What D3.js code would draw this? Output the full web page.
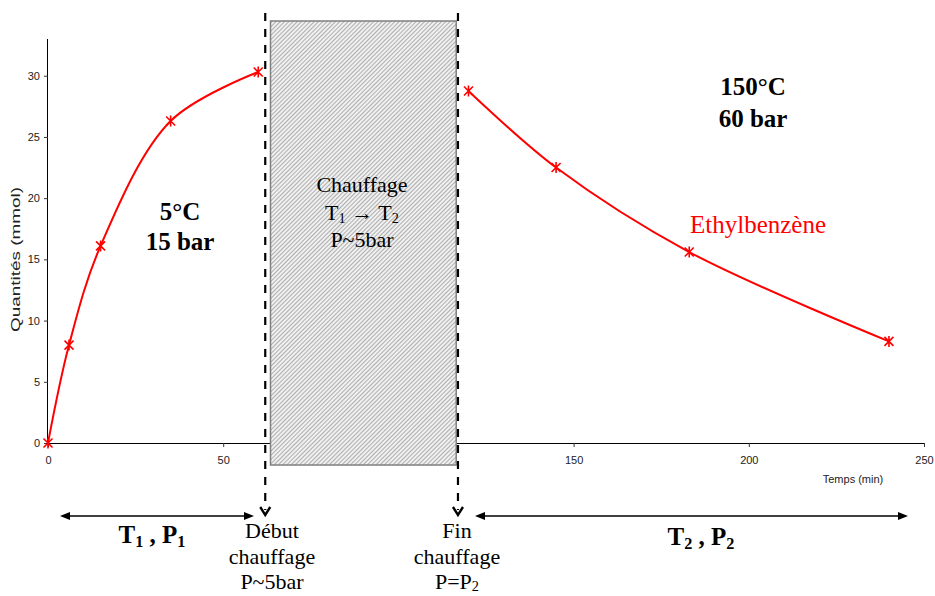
<!DOCTYPE html>
<html><head><meta charset="utf-8">
<script src="https://cdn.jsdelivr.net/npm/d3@7"></script>
<style>body{margin:0;background:#fff}svg{display:block}</style>
</head><body>
<svg id="c" width="935" height="596"></svg>
<script>
// ---- data ----
const phase1Time = [0, 6, 15, 35, 60];
const phase1Qty  = [0, 8.0, 16.1, 26.3, 30.3];
const phase2Time = [120, 145, 183, 240];
const phase2Qty  = [28.75, 22.5, 15.6, 8.3];
const xTicks = [0, 50, 150, 200, 250];
const yTicks = [0, 5, 10, 15, 20, 25, 30];
const heatBox = [63.5, 116.5];       // hatched heating period (min)
const heatMarks = [62, 117];         // dashed markers (min)

const svg = d3.select("#c");
const x = d3.scaleLinear().domain([0, 250]).range([48, 924]);
const y = d3.scaleLinear().domain([0, 33]).range([443, 39]);

// defs: hatch pattern
const defs = svg.append("defs");
const pat = defs.append("pattern").attr("id","hatch").attr("patternUnits","userSpaceOnUse")
  .attr("width",3).attr("height",3).attr("patternTransform","rotate(45)");
pat.append("rect").attr("width",3).attr("height",3).attr("fill","#f0f0f0");
pat.append("line").attr("x1",0).attr("y1",0).attr("x2",0).attr("y2",3)
  .attr("stroke","#777").attr("stroke-width",1.1);

// axes
const xAxis = d3.axisBottom(x).tickValues(xTicks).tickSize(4).tickPadding(9).tickFormat(d3.format("d"));
const gx = svg.append("g").attr("transform",`translate(0,${y(0)})`).call(xAxis);
gx.select(".domain").attr("stroke","#000");
gx.selectAll(".tick line").attr("stroke","#333");
gx.selectAll("text").attr("font-family","Arial, 'Liberation Sans', sans-serif").attr("font-size",11).attr("fill","#222");

const yAxis = d3.axisLeft(y).tickValues(yTicks).tickSize(4).tickPadding(4);
const gy = svg.append("g").attr("transform",`translate(${x(0)},0)`).call(yAxis);
gy.select(".domain").attr("stroke","#000").attr("d",`M-0.5,${y(33)}V${y(0)}`);
gy.selectAll(".tick line").attr("stroke","#333");
gy.selectAll("text").attr("font-family","Arial, 'Liberation Sans', sans-serif").attr("font-size",11).attr("fill","#222");

svg.append("text").attr("transform",`translate(20,${(187+332)/2}) rotate(-90)`)
  .attr("text-anchor","middle").attr("font-family","Arial, 'Liberation Sans', sans-serif")
  .attr("font-size",12).attr("fill","#222")
  .attr("textLength",145).attr("lengthAdjust","spacingAndGlyphs")
  .text("Quantités (mmol)");
svg.append("text").attr("x",853).attr("y",483).attr("text-anchor","middle")
  .attr("font-family","Arial, 'Liberation Sans', sans-serif").attr("font-size",11).attr("fill","#222")
  .text("Temps (min)");

// hatched heating box
svg.append("rect").attr("x",x(heatBox[0])).attr("y",21)
  .attr("width",x(heatBox[1])-x(heatBox[0])).attr("height",465-21)
  .attr("fill","url(#hatch)").attr("stroke","#808080").attr("stroke-width",1.5);

// curves
const line = d3.line().x(d=>x(d[0])).y(d=>y(d[1])).curve(d3.curveCatmullRom.alpha(0.5));
const s1 = phase1Time.map((t,i)=>[t,phase1Qty[i]]);
const s2 = phase2Time.map((t,i)=>[t,phase2Qty[i]]);
[s1,s2].forEach(s=>{
  svg.append("path").attr("d",line(s)).attr("fill","none").attr("stroke","#ff0000").attr("stroke-width",2);
  const m = svg.append("g").selectAll("g").data(s).join("g")
    .attr("transform",d=>`translate(${x(d[0])},${y(d[1])})`);
  m.append("path").attr("d","M-4.5,-4.5L4.5,4.5M-4.5,4.5L4.5,-4.5M0,-5.5V5.5")
    .attr("stroke","#ff0000").attr("stroke-width",1.6).attr("fill","none");
});

// dashed vertical markers with chevron heads
heatMarks.forEach(t=>{
  const xx = x(t);
  svg.append("line").attr("x1",xx).attr("x2",xx).attr("y1",13).attr("y2",510)
    .attr("stroke","#000").attr("stroke-width",2.2).attr("stroke-dasharray","8,8");
  svg.append("path").attr("d",`M${xx-5},${507}L${xx},${515}L${xx+5},${507}`)
    .attr("fill","none").attr("stroke","#000").attr("stroke-width",2.4).attr("stroke-linejoin","miter");
});

// double-headed arrows
function dblArrow(x1,x2,yy){
  svg.append("line").attr("x1",x1+6).attr("x2",x2-6).attr("y1",yy).attr("y2",yy)
    .attr("stroke","#000").attr("stroke-width",1.6);
  svg.append("path").attr("d",`M${x1},${yy}L${x1+10},${yy-4}L${x1+10},${yy+4}Z`).attr("fill","#000");
  svg.append("path").attr("d",`M${x2},${yy}L${x2-10},${yy-4}L${x2-10},${yy+4}Z`).attr("fill","#000");
}
dblArrow(60, 254, 516);
dblArrow(475, 908, 516);

const serif = "'Times New Roman', 'Liberation Serif', serif";
function txt(xx, yy, str, opt={}){
  return svg.append("text").attr("x",xx).attr("y",yy).attr("text-anchor","middle")
    .attr("font-family",serif).attr("font-size",opt.size||22)
    .attr("font-weight",opt.bold?"bold":"normal").attr("fill",opt.color||"#000").text(str);
}
// sub helper: parts array of [text, isSub]
function rich(xx, yy, parts, opt={}){
  const sz = opt.size||22, dd = opt.dd||4;
  const t = svg.append("text").attr("x",xx).attr("y",yy).attr("text-anchor","middle")
    .attr("font-family",serif).attr("font-size",sz)
    .attr("font-weight",opt.bold?"bold":"normal").attr("fill","#000");
  let sub=false;
  parts.forEach(([s,isSub])=>{
    const ts = t.append("tspan").text(s);
    if(isSub && !sub){ ts.attr("dy",dd).attr("font-size",sz*0.65); sub=true; }
    else if(isSub){ ts.attr("font-size",sz*0.65); }
    else if(sub){ ts.attr("dy",-dd); sub=false; }
  });
  return t;
}

// box text
txt(362, 192, "Chauffage");
rich(362, 220, [["T",false],["1",true],[" \u2192 T",false],["2",true]], {dd:3});
txt(362, 247, "P~5bar");

// condition labels
txt(180, 220, "5°C", {bold:true, size:25});
txt(180, 250, "15 bar", {bold:true, size:25});
txt(753, 95, "150°C", {bold:true, size:25});
txt(753, 127, "60 bar", {bold:true, size:25});
svg.append("text").attr("x",690).attr("y",233).attr("font-family",serif)
  .attr("font-size",25).attr("fill","#ff0000").text("Ethylbenzène");

// bottom labels
txt(272, 538, "Début");
txt(272, 564, "chauffage");
txt(272, 589, "P~5bar");
txt(457, 538, "Fin");
txt(457, 564, "chauffage");
rich(457, 589, [["P=P",false],["2",true]], {dd:2});
rich(152, 543, [["T",false],["1",true],[" , P",false],["1",true]], {bold:true, size:25});
rich(701, 545, [["T",false],["2",true],[" , P",false],["2",true]], {bold:true, size:25});
</script>
</body></html>
